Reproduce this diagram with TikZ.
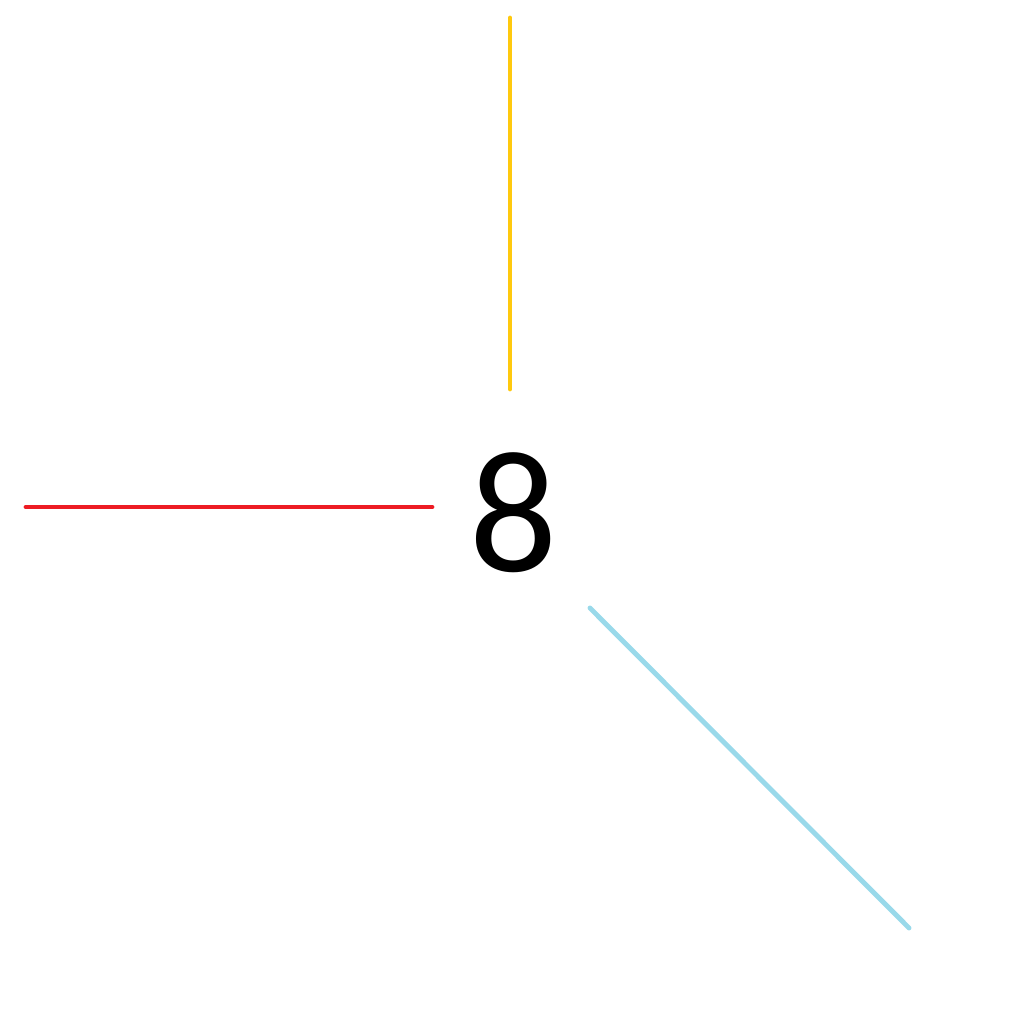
\documentclass[tikz,border=0pt]{standalone}
\usepackage{fontspec}
\setmainfont{Carlito}
\usepackage{tikz}
\definecolor{pgold}{HTML}{FFC90E}
\definecolor{pred}{HTML}{ED1C24}
\definecolor{pblue}{HTML}{99D9EA}
\begin{document}
\begin{tikzpicture}[stroke/.style={line width=1.4pt,line cap=round}]
\useasboundingbox (0,0) rectangle (10.24,10.24);
\node[anchor=base,inner sep=0pt,font=\fontsize{49.5}{54}\selectfont] (eight) at (5.14,4.52) {8};
\coordinate (topend) at (5.10,10.06);
\coordinate (topin) at (5.10,6.35);
\coordinate (leftend) at (0.26,5.17);
\coordinate (leftin) at (4.32,5.17);
\coordinate (brin) at (5.90,4.16);
\coordinate (brend) at (9.09,0.96);
\draw[stroke,pgold] (topend) -- (topin);
\draw[stroke,pred] (leftend) -- (leftin);
\draw[stroke,pblue] (brin) -- (brend);
\end{tikzpicture}
\end{document}
